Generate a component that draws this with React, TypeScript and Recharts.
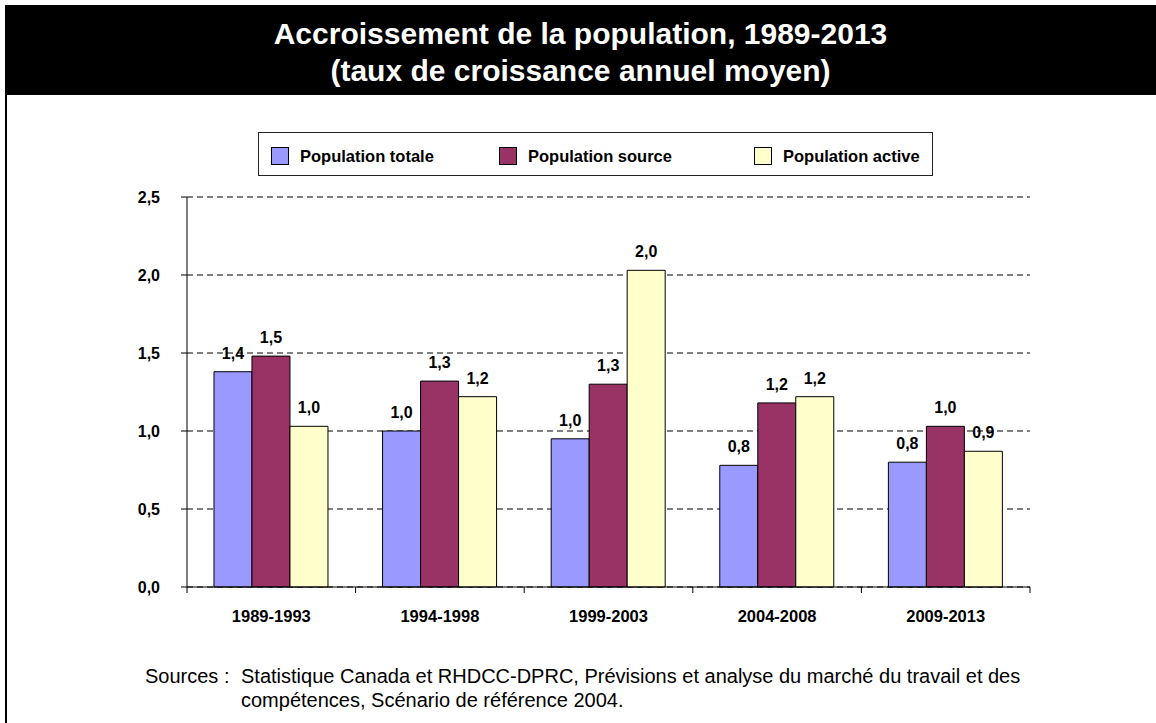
import { BarChart, Bar, XAxis, YAxis, CartesianGrid, Legend, LabelList } from 'recharts';

const FONT = '"Liberation Sans", Arial, sans-serif';

const periods = ['1989-1993', '1994-1998', '1999-2003', '2004-2008', '2009-2013'];
const totale = [1.38, 1.0, 0.95, 0.78, 0.8];
const source = [1.48, 1.32, 1.3, 1.18, 1.03];
const active = [1.03, 1.22, 2.03, 1.22, 0.87];
const yTicks = [0, 0.5, 1, 1.5, 2, 2.5];
const seriesOrder = ['totale', 'source', 'active'];

const rows = periods.map((p, i) => ({
  period: p,
  totale: totale[i],
  source: source[i],
  active: active[i],
}));

const comma = (v: number) => (Math.round(v * 10) / 10).toFixed(1).replace('.', ',');

const TXT = { fontSize: 16, fontWeight: 'bold', fill: '#000', fontFamily: FONT };
const TICK_GAP = 23;

// category label plus the small tick marks that sit between the groups
function PeriodTick({ x, y, payload, index }: any) {
  const half = payload.offset || 0;
  const axisY = y - TICK_GAP;
  return (
    <g>
      <line x1={x - half} x2={x - half} y1={axisY} y2={axisY + 6} stroke="#000" />
      {index === periods.length - 1 && (
        <line x1={x + half} x2={x + half} y1={axisY} y2={axisY + 6} stroke="#000" />
      )}
      <text x={x} y={y + 12} textAnchor="middle" fontSize={16.5} fontWeight="bold" fill="#000" fontFamily={FONT}>
        {payload.value}
      </text>
    </g>
  );
}

// legend items sit at fixed spots inside the box, like the Excel original
const LEGEND_LEFT = [12, 240, 495];

function LegendBox({ payload }: any) {
  const items = [...(payload || [])].sort(
    (a: any, b: any) => seriesOrder.indexOf(a.dataKey) - seriesOrder.indexOf(b.dataKey)
  );
  return (
    <div
      style={{
        position: 'relative',
        width: 675,
        height: 44,
        border: '1px solid #222',
        background: '#fff',
        boxSizing: 'border-box',
      }}
    >
      {items.map((p: any, i: number) => (
        <div
          key={p.value}
          style={{ position: 'absolute', left: LEGEND_LEFT[i], top: 14, display: 'flex', alignItems: 'center' }}
        >
          <span
            style={{
              width: 18,
              height: 18,
              background: p.color,
              border: '1px solid #000',
              boxSizing: 'border-box',
              display: 'inline-block',
            }}
          />
          <span style={{ marginLeft: 11, fontSize: 16.5, fontWeight: 'bold', color: '#000', lineHeight: '18px' }}>
            {p.value}
          </span>
        </div>
      ))}
    </div>
  );
}

export default function App() {
  return (
    <div
      style={{
        position: 'absolute',
        left: 0,
        top: 0,
        width: 1156,
        height: 723,
        background: '#fff',
        overflow: 'hidden',
        fontFamily: FONT,
      }}
    >
      <div style={{ position: 'absolute', left: 5, top: 5, width: 2, height: 718, background: '#000' }} />
      <div
        style={{
          position: 'absolute',
          left: 5,
          top: 5,
          right: 0,
          height: 90,
          background: '#000',
          color: '#fff',
          textAlign: 'center',
          fontWeight: 'bold',
          fontSize: 30,
          lineHeight: '37px',
          paddingTop: 10,
          boxSizing: 'border-box',
        }}
      >
        <div>Accroissement de la population, 1989-2013</div>
        <div>(taux de croissance annuel moyen)</div>
      </div>

      <div style={{ position: 'absolute', left: 0, top: 0 }}>
        <BarChart
          width={1156}
          height={723}
          data={rows}
          margin={{ top: 197, right: 126, bottom: 96, left: 0 }}
          barCategoryGap="16%"
          barGap={0}
        >
          <CartesianGrid vertical={false} stroke="#000" strokeDasharray="6 4" />
          <XAxis
            dataKey="period"
            axisLine={{ stroke: '#000' }}
            tickLine={false}
            tickSize={0}
            tickMargin={TICK_GAP}
            height={40}
            interval={0}
            tick={<PeriodTick />}
          />
          <YAxis
            domain={[0, 2.5]}
            ticks={yTicks}
            interval={0}
            width={187}
            tickSize={6}
            tickMargin={21}
            stroke="#000"
            tick={TXT}
            tickFormatter={(v: number) => v.toFixed(1).replace('.', ',')}
          />
          <Legend
            layout="horizontal"
            verticalAlign="middle"
            wrapperStyle={{ position: 'absolute', top: 132, left: 258, width: 675 }}
            content={<LegendBox />}
          />
          <Bar dataKey="totale" name="Population totale" fill="#9999FF" stroke="#000" strokeWidth={1} isAnimationActive={false}>
            <LabelList dataKey="totale" position="top" offset={13} formatter={comma} style={TXT} />
          </Bar>
          <Bar dataKey="source" name="Population source" fill="#993366" stroke="#000" strokeWidth={1} isAnimationActive={false}>
            <LabelList dataKey="source" position="top" offset={13} formatter={comma} style={TXT} />
          </Bar>
          <Bar dataKey="active" name="Population active" fill="#FFFFCC" stroke="#000" strokeWidth={1} isAnimationActive={false}>
            <LabelList dataKey="active" position="top" offset={13} formatter={comma} style={TXT} />
          </Bar>
        </BarChart>
      </div>

      <div style={{ position: 'absolute', left: 145, top: 664, fontSize: 20, lineHeight: '24px', color: '#000', display: 'flex' }}>
        <div style={{ width: 96, flexShrink: 0 }}>Sources :</div>
        <div style={{ width: 900 }}>
          Statistique Canada et RHDCC-DPRC, Prévisions et analyse du marché du travail et des
          <br />
          compétences, Scénario de référence 2004.
        </div>
      </div>
    </div>
  );
}
